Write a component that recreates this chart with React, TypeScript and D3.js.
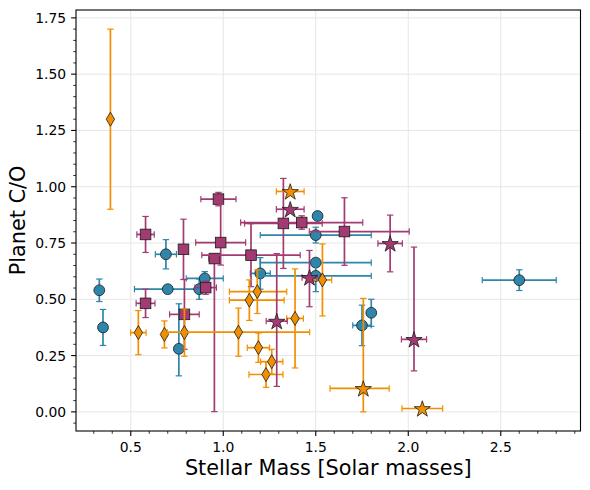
import * as d3 from 'd3'

// [mass, C/O, xErrLo, xErrHi, yErrLo, yErrHi]
type Pt = [number, number, number, number, number, number]

const blueCircles: Pt[] = [
  [0.33, 0.54, 0, 0, 0.05, 0.05],
  [0.35, 0.375, 0, 0, 0.08, 0.08],
  [0.69, 0.70, 0.057, 0.057, 0.065, 0.065],
  [0.70, 0.545, 0.18, 0.18, 0, 0],
  [0.87, 0.545, 0, 0, 0.045, 0.045],
  [0.90, 0.593, 0.1, 0.1, 0.03, 0.03],
  [0.76, 0.28, 0, 0, 0.12, 0.2],
  [1.20, 0.615, 0.054, 0.054, 0.07, 0.07],
  [1.51, 0.87, 0, 0, 0, 0],
  [1.50, 0.785, 0.3, 0.3, 0.035, 0.035],
  [1.50, 0.663, 0.3, 0.3, 0, 0],
  [1.50, 0.604, 0.3, 0.3, 0.07, 0.07],
  [1.80, 0.44, 0, 0, 0.06, 0.06],
  [1.75, 0.384, 0.05, 0.05, 0.09, 0.09],
  [2.60, 0.585, 0.2, 0.2, 0.046, 0.046],
]

const purpleSquares: Pt[] = [
  [0.58, 0.788, 0.047, 0.047, 0.08, 0.08],
  [0.58, 0.482, 0.051, 0.051, 0.063, 0.063],
  [0.785, 0.722, 0, 0, 0.134, 0.134],
  [0.79, 0.433, 0.08, 0.08, 0.155, 0.155],
  [0.905, 0.552, 0.058, 0.058, 0.03, 0.03],
  [0.952, 0.681, 0.03, 0.03, 0.68, 0.02],
  [0.974, 0.945, 0.095, 0.095, 0.03, 0.03],
  [0.986, 0.752, 0.135, 0.135, 0.1, 0.17],
  [1.15, 0.696, 0.266, 0.266, 0.14, 0.14],
  [1.325, 0.837, 0.21, 0.21, 0.2, 0.2],
  [1.424, 0.841, 0.33, 0.33, 0.03, 0.03],
  [1.655, 0.801, 0.19, 0.35, 0.15, 0.15],
]

const orangeDiamonds: Pt[] = [
  [0.39, 1.30, 0, 0, 0.4, 0.4],
  [0.541, 0.352, 0.042, 0.042, 0.098, 0.098],
  [0.682, 0.344, 0, 0, 0.06, 0.06],
  [0.79, 0.352, 0, 0, 0.105, 0.105],
  [1.082, 0.354, 0.385, 0.385, 0.107, 0.107],
  [1.141, 0.496, 0.108, 0.188, 0.09, 0.09],
  [1.184, 0.534, 0.151, 0.159, 0.097, 0.097],
  [1.19, 0.285, 0.06, 0.06, 0.065, 0.065],
  [1.231, 0.166, 0.092, 0.092, 0.057, 0.057],
  [1.262, 0.223, 0.06, 0.06, 0.055, 0.055],
  [1.388, 0.415, 0.045, 0.045, 0.22, 0.22],
  [1.536, 0.586, 0.05, 0.05, 0.16, 0.16],
]

const purpleStars: Pt[] = [
  [1.362, 0.9, 0.075, 0.075, 0, 0],
  [1.466, 0.597, 0.04, 0.04, 0.13, 0.12],
  [1.289, 0.403, 0.057, 0.057, 0.29, 0.30],
  [1.902, 0.748, 0.066, 0.066, 0.126, 0.126],
  [2.031, 0.322, 0.068, 0.068, 0.14, 0.41],
]

const orangeStars: Pt[] = [
  [1.362, 0.979, 0.075, 0.075, 0, 0],
  [1.757, 0.104, 0.18, 0.14, 0.104, 0.4],
  [2.076, 0.015, 0.11, 0.11, 0, 0],
]

const xTicks = [0.5, 1.0, 1.5, 2.0, 2.5]
const yTicks = [0, 0.25, 0.5, 0.75, 1.0, 1.25, 1.5, 1.75]

const BLUE = '#2e86ab'
const PURPLE = '#a23b72'
const ORANGE = '#f18f01'
const EDGE = '#1a1a1a'

const W = 590
const H = 490
const L = 76
const R = 580.5
const T = 10
const B = 431

const x = d3.scaleLinear().domain([0.204, 2.931]).range([L, R])
const y = d3.scaleLinear().domain([-0.085, 1.785]).range([B, T])

const xMinor = d3.range(0.3, 2.95, 0.1).filter(v => Math.abs(v * 2 - Math.round(v * 2)) > 1e-6)
const yMinor = d3.range(-0.05, 1.78, 0.05).filter(v => Math.abs(v * 4 - Math.round(v * 4)) > 1e-6)

const starPath = d3.symbol().type(d3.symbolStar).size(82)()!
const diamondPath = 'M0,-7L4.2,0L0,7L-4.2,0Z'

function ErrBars({ d, color }: { d: Pt; color: string }) {
  const [mx, my, xl, xh, yl, yh] = d
  const cx = x(mx)
  const cy = y(my)
  const cap = 3.2
  return (
    <g stroke={color} fill="none">
      {(xl > 0 || xh > 0) && (
        <>
          <line x1={x(mx - xl)} x2={x(mx + xh)} y1={cy} y2={cy} strokeWidth={1.7} />
          <line x1={x(mx - xl)} x2={x(mx - xl)} y1={cy - cap} y2={cy + cap} strokeWidth={1.2} />
          <line x1={x(mx + xh)} x2={x(mx + xh)} y1={cy - cap} y2={cy + cap} strokeWidth={1.2} />
        </>
      )}
      {(yl > 0 || yh > 0) && (
        <>
          <line x1={cx} x2={cx} y1={y(my - yl)} y2={y(my + yh)} strokeWidth={1.7} />
          <line x1={cx - cap} x2={cx + cap} y1={y(my - yl)} y2={y(my - yl)} strokeWidth={1.2} />
          <line x1={cx - cap} x2={cx + cap} y1={y(my + yh)} y2={y(my + yh)} strokeWidth={1.2} />
        </>
      )}
    </g>
  )
}

function Marker({ d, color, kind }: { d: Pt; color: string; kind: string }) {
  const cx = x(d[0])
  const cy = y(d[1])
  const common = { fill: color, stroke: EDGE, strokeWidth: 0.8 }
  if (kind === 'circle') return <circle cx={cx} cy={cy} r={5.4} {...common} />
  if (kind === 'square') return <rect x={cx - 5.3} y={cy - 5.3} width={10.6} height={10.6} {...common} />
  if (kind === 'diamond') return <path d={diamondPath} transform={`translate(${cx},${cy})`} {...common} />
  return <path d={starPath} transform={`translate(${cx},${cy + 0.8})`} {...common} />
}

function Series({ data, color, kind }: { data: Pt[]; color: string; kind: string }) {
  return (
    <g>
      {data.map((d, i) => (
        <g key={i}>
          <ErrBars d={d} color={color} />
          <Marker d={d} color={color} kind={kind} />
        </g>
      ))}
    </g>
  )
}

export default function App() {
  return (
    <svg
      width={W}
      height={H}
      style={{ position: 'absolute', left: 0, top: 0, background: '#fff' }}
      fontFamily="DejaVu Sans"
    >
      {/* grid */}
      <g stroke="#e6e6e6" strokeWidth={1}>
        {xTicks.map(t => <line key={t} x1={x(t)} x2={x(t)} y1={T} y2={B} />)}
        {yTicks.map(t => <line key={t} x1={L} x2={R} y1={y(t)} y2={y(t)} />)}
      </g>

      <Series data={blueCircles} color={BLUE} kind="circle" />
      <Series data={purpleSquares} color={PURPLE} kind="square" />
      <Series data={orangeDiamonds} color={ORANGE} kind="diamond" />
      <Series data={purpleStars} color={PURPLE} kind="star" />
      <Series data={orangeStars} color={ORANGE} kind="star" />

      {/* frame */}
      <rect x={L} y={T} width={R - L} height={B - T} fill="none" stroke="#000" strokeWidth={1.1} />

      {/* ticks */}
      <g stroke="#000" strokeWidth={1.1}>
        {xTicks.map(t => <line key={t} x1={x(t)} x2={x(t)} y1={B} y2={B + 4.9} />)}
        {yTicks.map(t => <line key={t} x1={L} x2={L - 4.9} y1={y(t)} y2={y(t)} />)}
      </g>
      <g stroke="#000" strokeWidth={0.8}>
        {xMinor.map(t => <line key={t} x1={x(t)} x2={x(t)} y1={B} y2={B + 2.8} />)}
        {yMinor.map(t => <line key={t} x1={L} x2={L - 2.8} y1={y(t)} y2={y(t)} />)}
      </g>
      <g fontSize={13.9} fill="#000">
        {xTicks.map(t => (
          <text key={t} x={x(t)} y={B + 21} textAnchor="middle">{d3.format('.1f')(t)}</text>
        ))}
        {yTicks.map(t => (
          <text key={t} x={L - 9.8} y={y(t) + 5} textAnchor="end">{d3.format('.2f')(t)}</text>
        ))}
      </g>

      <text x={(L + R) / 2} y={475} textAnchor="middle" fontSize={20.8}>Stellar Mass [Solar masses]</text>
      <text
        transform={`translate(24.5,${(T + B) / 2}) rotate(-90)`}
        textAnchor="middle"
        fontSize={20.8}
      >
        Planet C/O
      </text>
    </svg>
  )
}
